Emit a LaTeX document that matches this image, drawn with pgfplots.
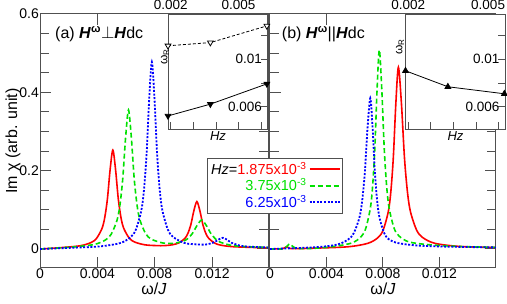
\documentclass[border=0pt]{standalone}
\usepackage{pgfplots}
\pgfplotsset{compat=1.18}
\usepackage{fontspec}
\setmainfont{Liberation Sans}
\definecolor{cR}{RGB}{255,0,0}
\definecolor{cG}{RGB}{0,225,0}
\definecolor{cB}{RGB}{0,0,255}
\definecolor{axc}{RGB}{80,80,80}
\pgfplotsset{
  mainax/.style={
    scale only axis, height=254pt, anchor=south west,
    ymin=-0.0485, ymax=0.6, xmin=0,
    scaled ticks=false,
    /pgf/number format/assume math mode=true,
    axis line style={axc, line width=1pt},
    every tick/.style={axc, line width=1pt},
    xtick pos=bottom, ytick pos=both,
    xtick={0,0.004,0.008,0.012},
    xticklabels={0,0.004,0.008,0.012},
    ytick={0,0.2,0.4,0.6},
    minor y tick num=3,
    major tick length=11pt, minor tick length=9pt,
    extra x ticks={0.004}, extra x tick labels={},
    extra x tick style={xtick pos=top},
    tick label style={font=\fontsize{14}{16}\selectfont, inner sep=1pt},
    xlabel={ω/\textit{J}},
    xlabel style={font=\fontsize{16}{18}\selectfont, at={(axis description cs:0.5,0)}, anchor=north, yshift=-10pt},
  },
  inset/.style={
    scale only axis, anchor=south west, width=100pt, height=115.5pt,
    xmin=0.001875, xmax=0.0063, ymin=0.0041, ymax=0.0138,
    scaled ticks=false,
    /pgf/number format/assume math mode=true,
    axis background/.style={fill=white},
    axis line style={axc, line width=1pt},
    every tick/.style={axc, line width=1pt},
    major tick length=7pt,
    xtick={0.002,0.003,0.004,0.005,0.006},
    xtick pos=bottom, xticklabel pos=top,
    ytick={0.006,0.008,0.01,0.012}, yticklabels={0.006,,0.01,},
    ytick pos=right, yticklabel pos=right,
    tick label style={font=\fontsize{13.5}{15}\selectfont},
    xticklabel style={anchor=south, inner sep=1pt, yshift=3pt},
    yticklabel style={anchor=east, inner sep=1pt, xshift=-5pt},
    xlabel={\textit{Hz}},
    xlabel style={at={(axis description cs:0.5,0)}, anchor=north, inner sep=2pt, font=\fontsize{13}{15}\selectfont},
    ylabel={ω\textsubscript{R}},
  },
}
\begin{document}
\fontsize{14}{16}\selectfont
\begin{tikzpicture}
\useasboundingbox (0pt,0pt) rectangle (507pt,304pt);
% ---------------- panel (a)
\begin{axis}[mainax, at={(40pt,36pt)}, width=228pt, xmax=0.0159,
  yticklabels={0,0.2,0.4,0.6},
  ylabel={Im χ (arb. unit)},
  ylabel style={font=\fontsize{16}{18}\selectfont, at={(axis description cs:-0.118,0.5)}, anchor=center},
]
\addplot[cR, line width=1.6pt, smooth] coordinates {
(0,0) (0.00128,0.003) (0.0028,0.0082) (0.00356,0.0165) (0.00394,0.027) (0.00432,0.0522)
(0.00451,0.0792) (0.0047,0.1274) (0.00489,0.2026) (0.00508,0.2526) (0.00527,0.2026)
(0.00546,0.1277) (0.00565,0.0796) (0.00584,0.0528) (0.00622,0.0279) (0.0066,0.0178)
(0.00736,0.0104) (0.00842,0.0084) (0.00888,0.0092) (0.00926,0.011) (0.00968,0.0155)
(0.0101,0.027) (0.01031,0.0396) (0.01052,0.0622) (0.01073,0.0976) (0.01094,0.1211)
(0.01115,0.0975) (0.01136,0.062) (0.01157,0.0393) (0.01178,0.0266) (0.0122,0.0147)
(0.01262,0.0097) (0.01346,0.0059) (0.01514,0.0037) (0.016,0.0035)};
\addplot[cG, line width=1.6pt, smooth, dash pattern=on 5pt off 3pt] coordinates {
(0,0) (0.00217,0.0048) (0.00377,0.0115) (0.00457,0.0232) (0.00497,0.038) (0.00537,0.0733)
(0.00557,0.1112) (0.00577,0.179) (0.00597,0.2846) (0.00617,0.3551) (0.00637,0.2847)
(0.00657,0.1792) (0.00677,0.1116) (0.00697,0.0738) (0.00737,0.0391) (0.00777,0.025)
(0.00857,0.0153) (0.00933,0.0146) (0.00998,0.0198) (0.01031,0.0267) (0.01063,0.0398)
(0.01096,0.0604) (0.01128,0.0741) (0.0116,0.0599) (0.01193,0.0387) (0.01226,0.025)
(0.01258,0.0173) (0.01323,0.0101) (0.01388,0.0071) (0.01518,0.0047) (0.016,0.0042)};
\addplot[cB, line width=1.8pt, smooth, dash pattern=on 2pt off 1.6pt] coordinates {
(0,0) (0.002,0.0028) (0.0041,0.0064) (0.00558,0.015) (0.00632,0.0301) (0.00669,0.0498)
(0.00706,0.0973) (0.007245,0.1485) (0.00743,0.2398) (0.007615,0.3824) (0.0078,0.4774)
(0.007985,0.3824) (0.00817,0.2399) (0.008355,0.1487) (0.00854,0.0975) (0.00891,0.0501)
(0.00928,0.0306) (0.01002,0.0159) (0.01035,0.0132) (0.0115,0.0112) (0.01215,0.0174)
(0.01245,0.0242) (0.01275,0.0286) (0.01305,0.0235) (0.01335,0.0161) (0.01395,0.0086)
(0.01455,0.006) (0.016,0.0038)};
\node[anchor=base west, inner sep=0pt, font=\fontsize{16}{18}\selectfont] at (axis description cs:0.066,0.9016)
  {(a) \textbf{\textit{H}}\textsuperscript{\textbf{ω}}$\perp$\textbf{\textit{H}}dc};
\end{axis}
% ---------------- panel (b)
\begin{axis}[mainax, at={(270pt,36pt)}, width=226pt, xmax=0.016,
  yticklabels={},
  legend style={at={(-0.2788,0.4331)}, anchor=north west, draw=axc, fill=white,
    font=\fontsize{14.5}{16}\selectfont, inner sep=2pt, row sep=-2pt},
  legend cell align=right, legend plot pos=right,
  legend image code/.code={\draw[#1] (0pt,0pt) -- (30pt,0pt);},
  legend image post style={line width=1.9pt},
]
\addplot[cR, line width=1.6pt, smooth] coordinates {
(0,0) (0.0009,0.001) (0.0012,0.006) (0.0015,0.001) (0.003,0.002) (0.00549,0.0056)
(0.00693,0.0145) (0.00765,0.0292) (0.00801,0.0482) (0.00837,0.0944) (0.00855,0.1442)
(0.00873,0.233) (0.00891,0.3716) (0.00909,0.464) (0.009305,0.3716) (0.00952,0.233)
(0.009735,0.1442) (0.00995,0.0944) (0.01038,0.0482) (0.01081,0.0292) (0.01167,0.0145)
(0.01339,0.0066) (0.016,0.0038)};
\addlegendentry{\textit{Hz}=\textcolor{cR}{1.875x10\textsuperscript{-3}}}
\addplot[cG, line width=1.6pt, smooth, dash pattern=on 5pt off 3pt] coordinates {
(0,0) (0.001,0.001) (0.0014,0.013) (0.0018,0.002) (0.003,0.0015) (0.00454,0.0065)
(0.00582,0.0157) (0.00646,0.0318) (0.00678,0.0526) (0.0071,0.1032) (0.00726,0.1577)
(0.00742,0.255) (0.00758,0.4068) (0.00774,0.508) (0.007915,0.4068) (0.00809,0.255)
(0.008265,0.1577) (0.00844,0.1032) (0.00879,0.0526) (0.00914,0.033) (0.00984,0.018)
(0.01124,0.011) (0.01334,0.0065) (0.016,0.0042)};
\addlegendentry{\textcolor{cG}{3.75x10\textsuperscript{-3}}}
\addplot[cB, line width=1.8pt, smooth, dash pattern=on 2pt off 1.6pt] coordinates {
(0,0) (0.0032,0.0045) (0.00476,0.0113) (0.00554,0.0245) (0.00593,0.0403) (0.00632,0.0786)
(0.006515,0.1198) (0.00671,0.1935) (0.006905,0.3084) (0.0071,0.385) (0.007265,0.3084)
(0.00743,0.1935) (0.007595,0.1198) (0.00776,0.0786) (0.00809,0.0403) (0.00842,0.0245)
(0.00908,0.015) (0.0104,0.009) (0.0125,0.006) (0.016,0.004)};
\addlegendentry{\textcolor{cB}{6.25x10\textsuperscript{-3}}}
\node[anchor=base west, inner sep=0pt, font=\fontsize{16}{18}\selectfont] at (axis description cs:0.052,0.9016)
  {(b) \textbf{\textit{H}}\textsuperscript{\textbf{ω}}||\textbf{\textit{H}}dc};
\end{axis}
% ---------------- inset (a)
\begin{axis}[inset, at={(168pt,174.5pt)},
  xticklabels={0.002,,,0.005,},
  ylabel style={at={(axis description cs:-0.03,0.628)}, anchor=center, rotate=0, font=\fontsize{12}{14}\selectfont},
]
\addplot[black, line width=0.8pt, mark=triangle*, mark size=3.3pt, mark options={rotate=180}]
  coordinates {(0.001875,0.00524) (0.00375,0.00623) (0.00625,0.00793)};
\addplot[black, line width=0.8pt, dash pattern=on 3pt off 2pt, mark=triangle*, mark size=3.3pt,
  mark options={rotate=180, solid, fill=white}]
  coordinates {(0.001875,0.01113) (0.00375,0.0114) (0.00625,0.0128)};
\end{axis}
% ---------------- inset (b)
\begin{axis}[inset, at={(405.5pt,174.5pt)},
  xticklabels={0.002,,,\hspace*{24pt}0.005,},
  ylabel style={at={(axis description cs:-0.055,0.714)}, anchor=center, rotate=0, font=\fontsize{12}{14}\selectfont},
]
\addplot[black, line width=0.8pt, mark=triangle*, mark size=3.3pt]
  coordinates {(0.001875,0.00903) (0.00375,0.00769) (0.00625,0.0071)};
\end{axis}
\end{tikzpicture}
\end{document}
